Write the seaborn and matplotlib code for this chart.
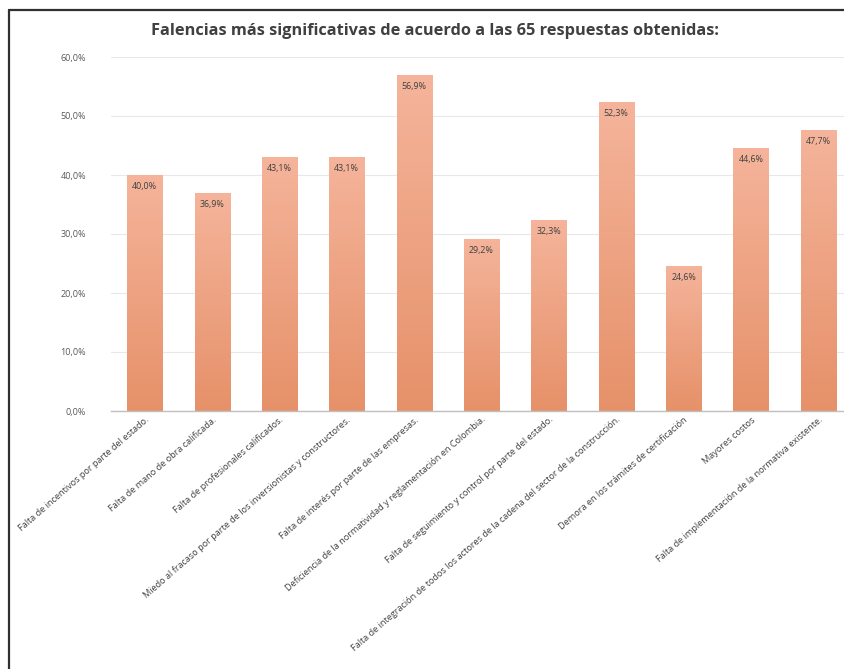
import numpy as np
import pandas as pd
import matplotlib
matplotlib.use("Agg")
import matplotlib.pyplot as plt
import seaborn as sns
from matplotlib.lines import Line2D
from matplotlib.colors import LinearSegmentedColormap

categories = [
    "Falta de incentivos por parte del estado.",
    "Falta de mano de obra calificada.",
    "Falta de profesionales calificados.",
    "Miedo al fracaso por parte de los inversionistas y constructores.",
    "Falta de interés por parte de las empresas.",
    "Deficiencia de la normatividad y reglamentación en Colombia.",
    "Falta de seguimiento y control por parte del estado.",
    "Falta de integración de todos los actores de la cadena del sector de la construcción.",
    "Demora en los trámites de certificación",
    "Mayores costos",
    "Falta de implementación de la normativa existente.",
]
values = [40.0, 36.9, 43.1, 43.1, 56.9, 29.2, 32.3, 52.3, 24.6, 44.6, 47.7]
yticks = [0, 10, 20, 30, 40, 50, 60]
title = "Falencias más significativas de acuerdo a las 65 respuestas obtenidas:"

sns.set_theme(style="white")
plt.rcParams['font.family'] = ['Open Sans', 'DejaVu Sans']

fig = plt.figure(figsize=(8.45, 6.69), dpi=100)
ax = fig.add_axes([111/845, 258/669, (845-111)/845, (612-258)/669])

df = pd.DataFrame({"cat": categories, "val": values})
sns.barplot(data=df, x="cat", y="val", color="#EFA080", width=0.52, ax=ax,
            saturation=1, edgecolor="none")

# gradient fill per bar
cmap = LinearSegmentedColormap.from_list("g", ["#E69169", "#F5B49B"])
grad = np.linspace(0, 1, 256).reshape(-1, 1)
for p in ax.patches:
    x0, y0 = p.get_x(), p.get_y()
    w, h = p.get_width(), p.get_height()
    im = ax.imshow(grad, cmap=cmap, origin="lower", aspect="auto",
                   extent=[x0, x0 + w, y0, y0 + h], zorder=p.get_zorder())
    im.set_clip_path(p)
    p.set_facecolor("none")

ax.set_xlim(-0.5, 10.396)
ax.set_ylim(0, 60)
ax.set_yticks(yticks)
ax.set_yticklabels([f"{t:.1f}".replace(".", ",") + "%" for t in yticks],
                   fontsize=6.5, color="#595959")
ax.yaxis.grid(True, color="#E8E8E8", linewidth=0.8)
ax.set_axisbelow(True)
for s in ["top", "right", "left"]:
    ax.spines[s].set_visible(False)
ax.spines["bottom"].set_color("#BFBFBF")
ax.spines["bottom"].set_linewidth(1)
ax.tick_params(axis="y", length=0, pad=18)
ax.tick_params(axis="x", length=0, pad=3)
ax.set_xlabel("")
ax.set_ylabel("")
ax.set_xticks(range(len(categories)))
ax.set_xticklabels(categories, rotation=41, ha="right", rotation_mode="anchor",
                   fontsize=6.6, color="#404040")

for i, v in enumerate(values):
    ax.annotate(f"{v:.1f}".replace(".", ",") + "%", xy=(i, v), xytext=(0, -5),
                textcoords="offset points", ha="center", va="top",
                fontsize=6.4, color="#404040")

fig.text(435/845, 1 - 31/669, title, ha="center", va="center",
         fontsize=11.8, fontweight="bold", color="#404040")

# frame lines (left and top border of the original image)
fig.add_artist(Line2D([9/845, 9/845], [0, 1 - 10/669], transform=fig.transFigure,
                      color="#303030", linewidth=1.6))
fig.add_artist(Line2D([9/845, 1], [1 - 10/669, 1 - 10/669], transform=fig.transFigure,
                      color="#303030", linewidth=1.6))

fig.savefig("out.png", dpi=100)
